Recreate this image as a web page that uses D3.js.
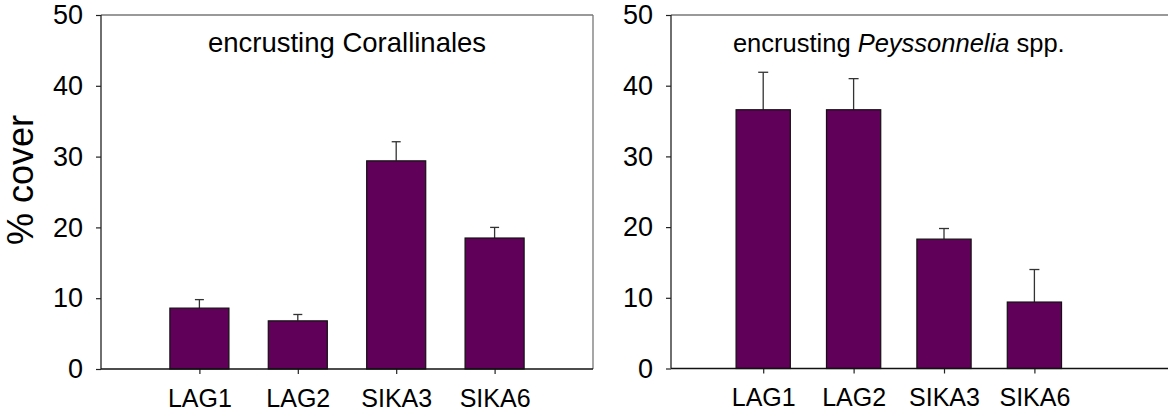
<!DOCTYPE html>
<html><head><meta charset="utf-8">
<script src="https://cdn.jsdelivr.net/npm/d3@7"></script>
<style>
html,body{margin:0;padding:0;background:#fff;}
svg{display:block;font-family:"Liberation Sans",Arial,sans-serif;}
</style></head>
<body><svg id="c" width="1168" height="419"></svg>
<script>
const categories = ["LAG1","LAG2","SIKA3","SIKA6"];
const corallinaMean = [8.6, 6.8, 29.4, 18.5];
const corallinaErr  = [1.2, 0.9, 2.7, 1.5];
const peyssoMean = [36.6, 36.6, 18.3, 9.4];
const peyssoErr  = [5.3, 4.4, 1.5, 4.6];
const yTicks = [0,10,20,30,40,50];
const yLabel = "% cover";

const svg = d3.select("#c");
const barColor = "#600058";

function panel(opt){
  const g = svg.append("g");
  const x = d3.scaleLinear().domain(opt.xDomain).range([opt.left, opt.right]);
  const y = d3.scaleLinear().domain([0,50]).range([opt.bottom, opt.top]);
  const data = categories.map((c,i)=>({c, i:i+1, m:opt.mean[i], e:opt.err[i]}));
  const bw = x(0.6) - x(0);

  g.append("line").attr("x1",opt.left).attr("x2",opt.right).attr("y1",opt.top).attr("y2",opt.top)
    .attr("stroke","#777").attr("stroke-width",1.3);
  g.append("line").attr("x1",opt.right).attr("x2",opt.right).attr("y1",opt.top).attr("y2",opt.bottom)
    .attr("stroke","#777").attr("stroke-width",1.3);

  const eb = g.append("g").attr("stroke","#333").attr("stroke-width",1.3);
  eb.selectAll("line.v").data(data).join("line")
    .attr("x1",d=>x(d.i)).attr("x2",d=>x(d.i)).attr("y1",d=>y(d.m)).attr("y2",d=>y(d.m+d.e));
  eb.selectAll("line.h").data(data).join("line")
    .attr("x1",d=>x(d.i)-opt.cap/2).attr("x2",d=>x(d.i)+opt.cap/2).attr("y1",d=>y(d.m+d.e)).attr("y2",d=>y(d.m+d.e));

  g.selectAll("rect.bar").data(data).join("rect").attr("class","bar")
    .attr("x",d=>x(d.i)-bw/2).attr("width",bw)
    .attr("y",d=>y(d.m)).attr("height",d=>y(0)-y(d.m))
    .attr("fill",barColor).attr("stroke","#111").attr("stroke-width",1.2);

  const ya = g.append("g").attr("transform",`translate(${opt.left},0)`)
    .call(d3.axisLeft(y).tickValues(yTicks).tickSize(5).tickPadding(13));
  ya.select(".domain").remove();
  ya.selectAll(".tick line").attr("stroke","#222").attr("stroke-width",1.2);
  ya.selectAll(".tick text").attr("font-size",27).attr("font-family","Liberation Sans, Arial, sans-serif").attr("fill","#000");
  g.append("line").attr("x1",opt.left).attr("x2",opt.left).attr("y1",opt.top).attr("y2",opt.bottom)
    .attr("stroke","#222").attr("stroke-width",1.3);

  const xa = g.append("g").attr("transform",`translate(0,${opt.bottom})`)
    .call(d3.axisBottom(x).tickValues([1,2,3,4]).tickFormat(v=>categories[v-1]).tickSize(5).tickPadding(15));
  xa.select(".domain").remove();
  xa.selectAll(".tick line").attr("stroke","#222").attr("stroke-width",1.2);
  xa.selectAll(".tick text").attr("font-size",25).attr("font-family","Liberation Sans, Arial, sans-serif").attr("fill","#000");
  g.append("line").attr("x1",opt.left).attr("x2",opt.right).attr("y1",opt.bottom).attr("y2",opt.bottom)
    .attr("stroke","#111").attr("stroke-width",1.4);

  const t = g.append("text").attr("x",x(2.5)).attr("y",52).attr("text-anchor","middle")
    .attr("font-size",opt.titleSize).attr("fill","#000");
  opt.title.forEach(p=>t.append("tspan").attr("font-style",p.italic?"italic":"normal").text(p.t));
}

panel({left:101, right:593, top:15, bottom:369, xDomain:[0,5], mean:corallinaMean, err:corallinaErr, cap:9,
  titleSize:27.5, title:[{t:"encrusting Corallinales"}]});
panel({left:671, right:1170, top:15, bottom:368.5, xDomain:[-0.02,5.5], mean:peyssoMean, err:peyssoErr, cap:10,
  titleSize:25.5, title:[{t:"encrusting "},{t:"Peyssonnelia",italic:true},{t:" spp."}]});

svg.append("text").attr("transform","translate(33,180) rotate(-90)").attr("text-anchor","middle")
  .attr("font-size",36).attr("fill","#000").text(yLabel);
</script></body></html>
